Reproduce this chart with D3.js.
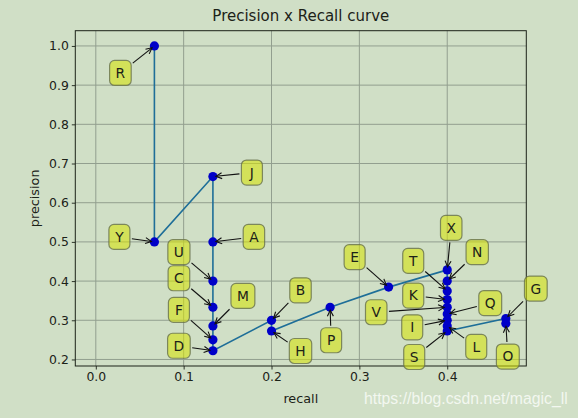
<!DOCTYPE html>
<html>
<head>
<meta charset="utf-8">
<script src="https://cdn.jsdelivr.net/npm/d3@7"></script>
<style>
  html, body { margin: 0; padding: 0; background: #d0dfc6; }
  svg { display: block; font-family: 'DejaVu Sans', sans-serif; }
</style>
</head>
<body>
<div id="chart"></div>
<script>
// detections sorted by confidence
const labels = ['R', 'Y', 'J', 'A', 'U', 'C', 'M', 'F', 'D', 'B', 'H', 'P', 'E', 'X', 'N', 'T', 'K', 'V', 'Q', 'I', 'L', 'S', 'G', 'O']
const recall = [0.0667, 0.0667, 0.1333, 0.1333, 0.1333, 0.1333, 0.1333, 0.1333, 0.1333, 0.2, 0.2, 0.2667, 0.3333, 0.4, 0.4, 0.4, 0.4, 0.4, 0.4, 0.4, 0.4, 0.4, 0.4667, 0.4667]
const precision = [1.0, 0.5, 0.6667, 0.5, 0.4, 0.3333, 0.2857, 0.25, 0.2222, 0.3, 0.2727, 0.3333, 0.3846, 0.4286, 0.4, 0.375, 0.3529, 0.3333, 0.3158, 0.3, 0.2857, 0.2727, 0.3043, 0.2917]
const xTicks = [0.0, 0.1, 0.2, 0.3, 0.4]
const yTicks = [0.2, 0.3, 0.4, 0.5, 0.6, 0.7, 0.8, 0.9, 1.0]

// annotation text offsets in pixels (layout only)
const labelOffset = {
  R: [-34, 27], Y: [-35, -5], J: [39, -4], A: [41, -5], U: [-34, -29], C: [-34, -29],
  M: [30, -30], F: [-34, -30], D: [-34, -5], B: [29, -30], H: [29, 20], P: [1, 33],
  E: [-34, -30], X: [4, -42], N: [30, -29], T: [-34, -30], K: [-34, -4], V: [-71, 5],
  Q: [43, -11], I: [-35, 7], L: [29, 21], S: [-33, 26], G: [30, -30], O: [2, 33]
}

const W = 578
const H = 418
const margin = { top: 30.7, right: 51.7, bottom: 52, left: 75.3 }
const width = W - margin.left - margin.right
const height = H - margin.top - margin.bottom

const ink = '#1c2218'

const svg = d3
  .select('#chart')
  .append('svg')
  .attr('width', W)
  .attr('height', H)

svg.append('rect').attr('width', W).attr('height', H).attr('fill', '#d0dfc6')

const g = svg.append('g')
  .attr('transform', 'translate(' + margin.left + ',' + margin.top + ')')

const x = d3.scaleLinear().domain([-0.02333, 0.49]).range([0, width])
const y = d3.scaleLinear().domain([0.18333, 1.03889]).range([height, 0])

// grid
g.append('g')
  .selectAll('line')
  .data(xTicks)
  .enter()
  .append('line')
  .attr('x1', d => x(d)).attr('x2', d => x(d))
  .attr('y1', 0).attr('y2', height)
  .attr('stroke', '#929f8f').attr('stroke-width', 1)

g.append('g')
  .selectAll('line')
  .data(yTicks)
  .enter()
  .append('line')
  .attr('y1', d => y(d)).attr('y2', d => y(d))
  .attr('x1', 0).attr('x2', width)
  .attr('stroke', '#929f8f').attr('stroke-width', 1)

// axes
const xAxis = d3.axisBottom(x).tickValues(xTicks).tickFormat(d3.format('.1f')).tickSize(3.5).tickPadding(3)
const yAxis = d3.axisLeft(y).tickValues(yTicks).tickFormat(d3.format('.1f')).tickSize(3.5).tickPadding(3)

const gx = g.append('g')
  .attr('transform', 'translate(0,' + height + ')')
  .call(xAxis)
const gy = g.append('g').call(yAxis)

;[gx, gy].forEach(a => {
  a.select('.domain').remove()
  a.selectAll('.tick line').attr('stroke', ink).attr('stroke-width', 0.9)
  a.selectAll('.tick text').attr('fill', ink).attr('font-size', 12.4).attr('font-family', 'DejaVu Sans')
})

g.append('rect')
  .attr('width', width).attr('height', height)
  .attr('fill', 'none').attr('stroke', ink).attr('stroke-width', 1)

// curve
const line = d3.line().x(d => x(d[0])).y(d => y(d[1]))
const pts = recall.map((r, i) => [r, precision[i]])

g.append('path')
  .datum(pts)
  .attr('d', line)
  .attr('fill', 'none')
  .attr('stroke', '#1e6e98')
  .attr('stroke-width', 1.6)

g.selectAll('.dot')
  .data(pts)
  .enter()
  .append('circle')
  .attr('class', 'dot')
  .attr('cx', d => x(d[0]))
  .attr('cy', d => y(d[1]))
  .attr('r', 4.6)
  .attr('fill', '#0000c8')

// annotations
const boxH = 25
labels.forEach((lab, i) => {
  const px = x(recall[i])
  const py = y(precision[i])
  const off = labelOffset[lab]
  const cx = px + off[0]
  const cy = py + off[1]

  const t = g.append('text')
    .attr('x', cx).attr('y', cy)
    .attr('text-anchor', 'middle')
    .attr('dy', '0.36em')
    .attr('font-size', 13.8)
    .attr('fill', ink)
    .text(lab)
  const tw = t.node().getComputedTextLength()
  const boxW = Math.max(tw + 12, 21)

  // arrow from box edge to point
  const dx = px - cx
  const dy = py - cy
  const len = Math.hypot(dx, dy)
  const ux = dx / len
  const uy = dy / len
  const tBox = Math.min(
    Math.abs(dx) > 0 ? (boxW / 2) / Math.abs(dx) : Infinity,
    Math.abs(dy) > 0 ? (boxH / 2) / Math.abs(dy) : Infinity
  )
  const sx = cx + dx * tBox + ux * 2
  const sy = cy + dy * tBox + uy * 2
  const ex = px - ux * 3
  const ey = py - uy * 3

  g.append('line')
    .attr('x1', sx).attr('y1', sy).attr('x2', ex).attr('y2', ey)
    .attr('stroke', '#111').attr('stroke-width', 1.1)

  const ah = 6
  const aw = 3
  const bx = ex - ux * ah
  const by = ey - uy * ah
  g.append('path')
    .attr('d', 'M' + (bx - uy * aw) + ',' + (by + ux * aw) + 'L' + ex + ',' + ey + 'L' + (bx + uy * aw) + ',' + (by - ux * aw))
    .attr('fill', 'none')
    .attr('stroke', '#111')
    .attr('stroke-width', 1.1)

  g.insert('rect', () => t.node())
    .attr('x', cx - boxW / 2).attr('y', cy - boxH / 2)
    .attr('width', boxW).attr('height', boxH)
    .attr('rx', 5).attr('ry', 5)
    .attr('fill', '#d6e204')
    .attr('fill-opacity', 0.56)
    .attr('stroke', '#66704c')
    .attr('stroke-opacity', 0.8)
    .attr('stroke-width', 1.2)
  t.raise()
})

// titles
svg.append('text')
  .attr('x', margin.left + width / 2).attr('y', 21)
  .attr('text-anchor', 'middle')
  .attr('font-size', 15)
  .attr('fill', ink)
  .text('Precision x Recall curve')

svg.append('text')
  .attr('x', margin.left + width / 2).attr('y', 402.5)
  .attr('text-anchor', 'middle')
  .attr('font-size', 12.8)
  .attr('fill', ink)
  .text('recall')

svg.append('text')
  .attr('transform', 'translate(39,' + (margin.top + height / 2) + ') rotate(-90)')
  .attr('text-anchor', 'middle')
  .attr('font-size', 12.8)
  .attr('fill', ink)
  .text('precision')

// watermark
const wm = svg.append('text')
  .attr('x', 364).attr('y', 404)
  .attr('font-family', 'Liberation Sans, Arial, sans-serif')
  .attr('font-size', 15)
  .attr('fill', '#ffffff')
  .attr('fill-opacity', 0.75)
  .text('https://blog.csdn.net/magic_ll')
const wmw = wm.node().getComputedTextLength()
wm.attr('font-size', 15 * 204 / wmw)
</script>
</body>
</html>
